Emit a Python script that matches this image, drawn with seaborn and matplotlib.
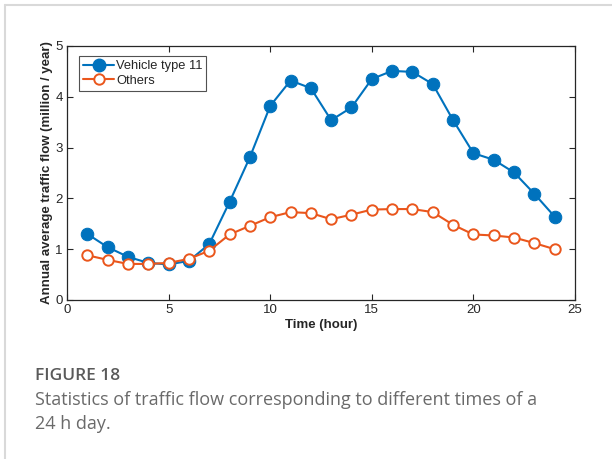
import matplotlib
matplotlib.use("Agg")
import matplotlib.pyplot as plt
import seaborn as sns
import pandas as pd
from matplotlib.lines import Line2D

hours = list(range(1, 25))
vehicle11 = [1.30, 1.04, 0.85, 0.73, 0.70, 0.77, 1.10, 1.93, 2.81, 3.82, 4.32, 4.17,
             3.54, 3.79, 4.35, 4.51, 4.49, 4.25, 3.54, 2.89, 2.76, 2.51, 2.09, 1.64]
others = [0.88, 0.79, 0.71, 0.71, 0.73, 0.81, 0.97, 1.29, 1.46, 1.63, 1.73, 1.71,
          1.59, 1.68, 1.78, 1.79, 1.79, 1.73, 1.48, 1.29, 1.27, 1.23, 1.12, 1.00]
series_names = ["Vehicle type 11", "Others"]
x_ticks = [0, 5, 10, 15, 20, 25]
y_ticks = [0, 1, 2, 3, 4, 5]

blue = "#0072BD"
orange = "#EA561C"

sns.set_style("ticks")
plt.rcParams['font.family'] = ['Liberation Sans', 'DejaVu Sans']

df = pd.DataFrame({
    "hour": hours * 2,
    "flow": vehicle11 + others,
    "series": [series_names[0]] * 24 + [series_names[1]] * 24,
})

fig = plt.figure(figsize=(6.12, 4.59), dpi=100)
ax = fig.add_axes([67 / 612, 1 - 300 / 459, 508 / 612, 254 / 459])

d1 = df[df.series == series_names[0]]
d2 = df[df.series == series_names[1]]
sns.lineplot(data=d1, x="hour", y="flow", ax=ax, color=blue, lw=1.5,
             marker="o", markersize=9, markerfacecolor=blue, markeredgecolor=blue,
             label=series_names[0])
sns.lineplot(data=d2, x="hour", y="flow", ax=ax, color=orange, lw=1.5,
             marker="o", markersize=7.5, markerfacecolor="white", markeredgecolor=orange,
             markeredgewidth=1.4, label=series_names[1])

ax.set_xlim(0, 25)
ax.set_ylim(0, 5)
ax.set_xticks(x_ticks)
ax.set_yticks(y_ticks)
ax.tick_params(direction="in", length=4, width=0.8, labelsize=9.5, colors="#262626",
               top=True, right=True, pad=3)
for s in ax.spines.values():
    s.set_linewidth(0.9)
    s.set_color("#262626")
ax.set_xlabel("Time (hour)", fontsize=9.5, fontweight="bold", labelpad=2)
ax.set_ylabel("Annual average traffic flow (million / year)", fontsize=9.5,
              fontweight="bold", labelpad=2)

handles = [
    Line2D([], [], color=blue, lw=1.5, marker="o", markersize=9,
           markerfacecolor=blue, markeredgecolor=blue),
    Line2D([], [], color=orange, lw=1.5, marker="o", markersize=7.5,
           markerfacecolor="white", markeredgecolor=orange, markeredgewidth=1.4),
]
leg = ax.legend(handles, series_names, loc="upper left", fontsize=9.3,
                frameon=True, fancybox=False, edgecolor="#262626",
                bbox_to_anchor=(0.024, 0.96), borderaxespad=0, handlelength=2.4,
                handletextpad=0.15, labelspacing=0.2, borderpad=0.3)
leg.get_frame().set_linewidth(0.8)

# panel border lines
fig.add_artist(Line2D([5 / 612, 5 / 612], [0, 1 - 5 / 459], color="#d9d9d9", lw=1.5))
fig.add_artist(Line2D([5 / 612, 1], [1 - 5 / 459, 1 - 5 / 459], color="#d9d9d9", lw=1.5))

fig.text(35 / 612, 1 - 376 / 459, "FIGURE 18", fontsize=12.5, fontweight="semibold",
         color="#5a5a5a", family=["Open Sans", "DejaVu Sans"], va="center")
fig.text(35 / 612, 1 - 400 / 459,
         "Statistics of traffic flow corresponding to different times of a",
         fontsize=13, color="#6a6a6a", family=["Open Sans", "DejaVu Sans"], va="center")
fig.text(35 / 612, 1 - 424 / 459, "24 h day.", fontsize=13, color="#6a6a6a",
         family=["Open Sans", "DejaVu Sans"], va="center")

fig.savefig("out.png", dpi=100)
